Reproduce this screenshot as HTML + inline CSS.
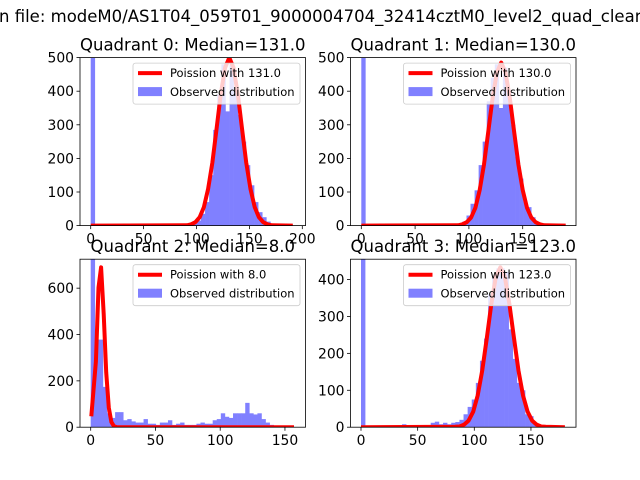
<!DOCTYPE html>
<html><head><meta charset="utf-8">
<style>
html,body{margin:0;padding:0;background:#fff;}
svg{display:block;font-family:"DejaVu Sans","Liberation Sans",sans-serif;}
</style></head>
<body>
<svg id="fig" width="640" height="480" viewBox="0 0 640 480" xmlns="http://www.w3.org/2000/svg">
<rect x="0" y="0" width="640" height="480" fill="#fff"/>
<text x="-1" y="22" font-size="16.5" fill="#000">n file: modeM0/AS1T04_059T01_9000004704_32414cztM0_level2_quad_clean</text>
</svg>
<script>
// ---- data ----
const q0Bins = [600,0,0,0,0,0,0,0,0,0,0,0,0,0,0,0,0,0,0,0,0,0,0,0,0,5,15,35,70,150,285,390,480,340,480,400,330,250,180,120,70,40,25,12,5,0,0,0,0,0];
const q1Bins = [600,0,0,0,0,0,0,0,0,0,0,0,0,0,0,0,0,0,0,0,0,0,0,0,0,12,30,65,105,180,250,370,440,480,350,470,400,300,205,140,70,55,25,8,2,0,0,0,0,0];
const q2Bins = [800,378,378,174,60,40,65,65,30,35,25,20,20,35,15,15,10,20,20,30,10,15,20,10,10,10,15,20,15,15,30,35,60,45,40,60,60,60,105,60,55,60,35,20,10,5,0,0,0,0];
const q3Bins = [600,0,0,0,0,0,0,0,0,0,8,2,2,2,2,6,4,12,15,8,12,8,12,14,20,35,55,75,120,180,240,360,410,430,430,420,265,185,120,100,35,30,10,3,0,0,0,0,0,0];
const binWidths = [3.86,3.76,3.14,3.62];
const q0CurveX = [0,91,95,99,103,107,111,115,119,123,127,131,135,139,143,147,151,155,159,163,167,171,191];
const q0CurveY = [0,1,4,10,25,55,109,188,289,392,470,500,470,392,289,188,109,55,25,10,4,1,0];
const q1CurveX = [0,90,94,98,102,106,110,114,118,122,126,130,134,138,142,146,150,154,158,162,166,170,190];
const q1CurveY = [0,1,4,10,24,53,106,182,280,380,456,485,456,380,280,182,106,53,24,10,4,1,0];
const q2CurveX = [0.5,4,6,8,10,12,14,16,18,20,157];
const q2CurveY = [47,283,603,690,489,237,84,22,4,0,0];
const q3CurveX = [0,83,87,91,95,99,103,107,111,115,119,123,127,131,135,139,143,147,151,155,159,163,180];
const q3CurveY = [0,1,2,7,18,42,86,153,241,333,407,433,407,333,241,153,86,42,18,7,2,1,0];
const titles = ["Quadrant 0: Median=131.0","Quadrant 1: Median=130.0","Quadrant 2: Median=8.0","Quadrant 3: Median=123.0"];
const legendLabels = ["Poission with 131.0","Poission with 130.0","Poission with 8.0","Poission with 123.0"];
const xTicks = [[0,50,100,150,200],[0,50,100,150],[0,50,100,150],[0,50,100,150]];
const yTicks = [[0,100,200,300,400,500],[0,100,200,300,400,500],[0,200,400,600],[0,100,200,300,400]];
const yMax = [500,500,725,455];

// ---- layout ----
const NS = "http://www.w3.org/2000/svg";
const svg = document.getElementById("fig");
const panels = [
 {x0:80, x1:305.5, y0:57.6, y1:225.6, zeroPx:90.7, ppu:1.058},
 {x0:350.5, x1:576, y0:57.6, y1:225.6, zeroPx:361.3, ppu:1.076},
 {x0:80, x1:305.5, y0:259.2, y1:427.2, zeroPx:90.7, ppu:1.295},
 {x0:350.5, x1:576, y0:259.2, y1:427.2, zeroPx:361, ppu:1.133}
];
const binsAll = [q0Bins,q1Bins,q2Bins,q3Bins];
const curvesX = [q0CurveX,q1CurveX,q2CurveX,q3CurveX];
const curvesY = [q0CurveY,q1CurveY,q2CurveY,q3CurveY];
function mk(tag, attrs, parent){const e=document.createElementNS(NS,tag);for(const k in attrs)e.setAttribute(k,attrs[k]);(parent||svg).appendChild(e);return e;}

panels.forEach((p,q)=>{
  const xs = v => p.zeroPx + v*p.ppu;
  const ys = v => p.y1 - v/yMax[q]*(p.y1-p.y0);
  const g = mk("g",{});
  
  
  const cp = mk("clipPath",{id:"clip"+q},g);
  mk("rect",{x:p.x0,y:p.y0,width:p.x1-p.x0,height:p.y1-p.y0},cp);
  const plot = mk("g",{"clip-path":"url(#clip"+q+")"},g);
  const bins = binsAll[q], w = binWidths[q];
  bins.forEach((h,i)=>{
    if(h<=0) return;
    const r = mk("rect",{x:xs(i*w),y:ys(h),width:xs((i+1)*w)-xs(i*w)+0.3,height:ys(0)-ys(h),fill:"#8080ff"},plot);
    
    
  });
  const cx = curvesX[q], cy = curvesY[q];
  let d = "";
  cx.forEach((v,i)=>{ d += (i?"L":"M")+xs(v).toFixed(1)+","+ys(cy[i]).toFixed(1); });
  const line = mk("path",{d:d,fill:"none",stroke:"#ff0000","stroke-width":4,"stroke-linejoin":"round"},plot);
  
  
  const fr = mk("rect",{x:p.x0,y:p.y0,width:p.x1-p.x0,height:p.y1-p.y0,fill:"none",stroke:"#000","stroke-width":0.8},g);
  
  
  xTicks[q].forEach(t=>{
    const X = xs(t);
    mk("line",{x1:X,x2:X,y1:p.y1,y2:p.y1+3.5,stroke:"#000","stroke-width":0.8},g);
    const tx = mk("text",{x:X,y:p.y1+18,"font-size":13.9,"text-anchor":"middle",fill:"#000"},g);
    tx.textContent = t;
    
    
  });
  yTicks[q].forEach(t=>{
    const Y = ys(t);
    mk("line",{x1:p.x0-3.5,x2:p.x0,y1:Y,y2:Y,stroke:"#000","stroke-width":0.8},g);
    const ty = mk("text",{x:p.x0-6,y:Y+5,"font-size":13.9,"text-anchor":"end",fill:"#000"},g);
    ty.textContent = t;
    
    
  });
  const tt = mk("text",{x:(p.x0+p.x1)/2,y:p.y0-7,"font-size":16.5,"text-anchor":"middle",fill:"#000"},g);
  tt.textContent = titles[q];
  
  
  const lx = p.x1-172.5, ly = p.y0+5.5;
  const lg = mk("g",{},g);
  
  
  mk("rect",{x:lx,y:ly,width:167,height:41,rx:2.5,fill:"#fff","fill-opacity":0.8,stroke:"#cccccc","stroke-width":0.8},lg);
  mk("line",{x1:lx+5,x2:lx+29,y1:ly+10,y2:ly+10,stroke:"#ff0000","stroke-width":4},lg);
  const t1 = mk("text",{x:lx+37,y:ly+14,"font-size":11.5,fill:"#000"},lg);
  t1.textContent = legendLabels[q];
  
  
  mk("rect",{x:lx+5,y:ly+24,width:24,height:9,fill:"#8080ff"},lg);
  const t2 = mk("text",{x:lx+37,y:ly+33,"font-size":11.5,fill:"#000"},lg);
  t2.textContent = "Observed distribution";
  
  
});
</script>
</body></html>
